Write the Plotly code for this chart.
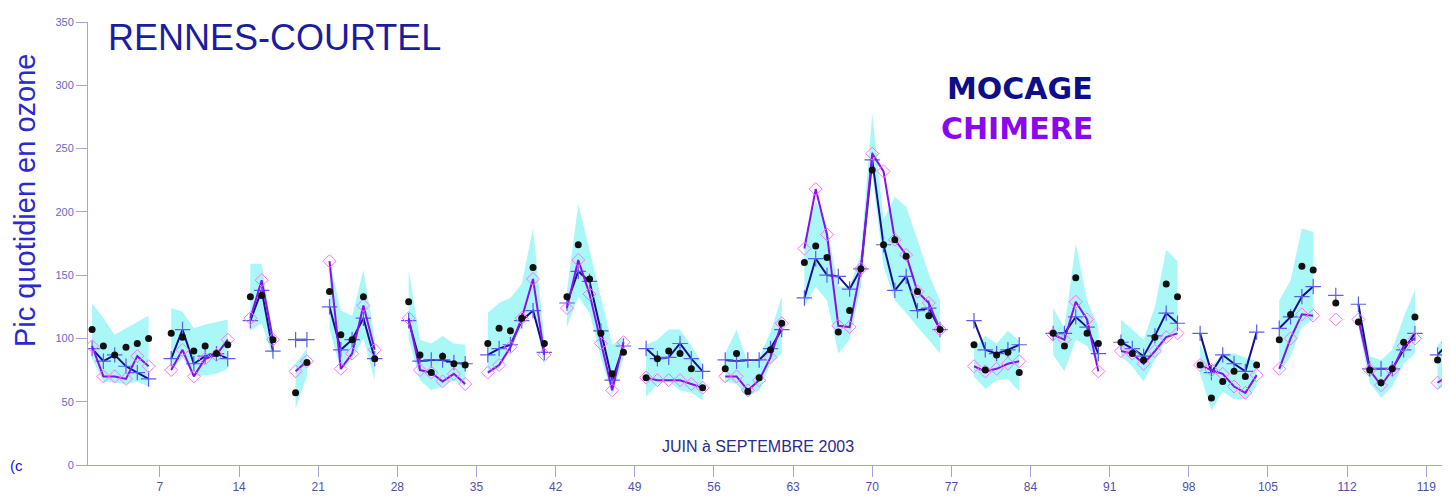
import plotly.graph_objects as go

days = list(range(1, 122))
N = None
# observed daily ozone peak (black dots)
obs = [107, 94, 87, 93, 96, 100, N,
       104, 101, 90, 94, 88, 95, N,
       133, 134, 99, N, 57, 81, N,
       137, 103, 99, 133, 84, N, N,
       129, 87, 73, 86, 80, 79, N,
       96, 108, 106, 116, 156, 96, N,
       133, 174, 147, 104, 72, 89, N,
       69, 84, 90, 88, 76, 61, N,
       76, 88, 58, 69, 91, 112, N,
       160, 173, 164, 105, 122, 155, 233,
       174, 178, 165, 137, 118, 107, N,
       N, 95, 75, 87, 89, 73, N,
       N, 104, 94, 148, 104, 96, N,
       97, 88, 83, 101, 143, 133, N,
       79, 53, 66, 74, 70, 79, N,
       99, 119, 157, 154, N, 128, N,
       113, 75, 65, 76, 97, 117, N,
       83, 77]
mocage = [92, 82, 87, 78, 73, 68, N,
          84, 107, 80, 86, 88, 84, N,
          114, 138, 90, N, 99, 99, N,
          125, 91, 99, 116, 84, N, N,
          114, 82, 83, 83, 81, 80, N,
          87, 92, 95, 114, 122, 89, N,
          128, 153, 145, 106, 67, 94, N,
          92, 84, 85, 96, 84, 74, N,
          83, 82, 83, 83, 92, 107, N,
          132, 163, 150, 149, 139, 155, 241,
          174, 138, 149, 122, 124, 107, N,
          N, 114, 91, 88, 91, 95, N,
          N, 104, 104, 117, 109, 88, N,
          97, 92, 86, 102, 120, 112, N,
          104, 73, 87, 80, 74, 105, N,
          108, 117, 133, 141, N, 134, N,
          127, 76, 76, 76, 91, 104, N,
          87, 97]
chimere = [94, 70, 70, 68, 86, 78, N,
           75, 91, 70, 84, 87, 99, N,
           116, 146, 99, N, 74, 82, N,
           161, 76, 88, 126, 91, N, N,
           116, 75, 73, 66, 72, 64, N,
           73, 79, 93, 116, 147, 87, N,
           124, 162, 135, 96, 59, 97, N,
           69, 67, 67, 67, 64, 61, N,
           70, 70, 59, 67, 85, 112, N,
           171, 218, 182, 110, 109, 155, 246,
           232, 178, 166, 137, 128, 107, N,
           N, 78, 74, 76, 80, 82, N,
           N, 103, 99, 129, 115, 74, N,
           90, 88, 80, 90, 101, 104, N,
           79, 75, 72, 62, 57, 71, N,
           76, 100, 119, 118, N, 115, N,
           115, 75, 63, 75, 94, 100, N,
           65, 71]
band_low = [84, 66, 65, 64, 66, 62, N,
            74, 85, 70, 71, 72, 76, N,
            106, 112, 85, N, 45, 70, N,
            108, 74, 84, 100, 67, N, N,
            100, 67, 59, 62, 67, 62, N,
            72, 76, 91, 109, 125, 78, N,
            109, 133, 120, 85, 55, 85, N,
            54, 64, 66, 59, 57, 51, N,
            66, 64, 54, 59, 80, 88, N,
            125, 141, 130, 88, 99, 141, 230,
            157, 130, 120, 109, 99, 88, N,
            N, 70, 60, 67, 68, 58, N,
            N, 87, 74, 99, 94, 80, N,
            86, 78, 66, 83, 99, 104, N,
            72, 43, 58, 52, 52, 62, N,
            72, 86, 109, 115, N, N, N,
            109, 65, 53, 62, 80, 88, N,
            59, 65]
band_high = [128, 116, 103, 108, 113, 118, N,
             124, 121, 108, 111, 113, 115, N,
             159, 159, 103, N, 80, 92, N,
             162, 122, 118, 154, 100, N, N,
             154, 99, 96, 102, 96, 95, N,
             120, 128, 132, 143, 187, 100, N,
             138, 206, 170, 133, 95, 101, N,
             95, 99, 107, 107, 94, 80, N,
             88, 107, 80, 85, 105, 133, N,
             178, 209, 188, 141, 141, 167, 278,
             194, 212, 204, 178, 151, 130, N,
             N, 92, 102, 96, 106, 98, N,
             N, 124, 108, 175, 130, 109, N,
             115, 107, 99, 125, 170, 161, N,
             95, 78, 88, 88, 85, 82, N,
             130, 146, 187, 184, N, N, N,
             128, 86, 83, 91, 117, 138, N,
             95, 101]

x_ticks = [7, 14, 21, 28, 35, 42, 49, 56, 63, 70, 77, 84, 91, 98, 105, 112, 119]
y_ticks = [0, 50, 100, 150, 200, 250, 300, 350]

# build band polygons from contiguous runs of the band arrays
bx, by = [], []
run = []
for i, d in enumerate(days + [None]):
    ok = d is not None and band_low[i] is not None
    if ok:
        run.append(i)
    elif run:
        xs = [days[j] for j in run] + [days[j] for j in reversed(run)]
        ys = [band_high[j] for j in run] + [band_low[j] for j in reversed(run)]
        bx += xs + [None]
        by += ys + [None]
        run = []

# page offset of the plot div (default body margin)
OFF = 8
W, H = 1450 - OFF, 499 - OFF
L, R, T, B = 88 - OFF, 0, 22 - OFF, 34
PW, PH = W - L - R, H - T - B


def px(xp):  # page pixel -> paper x
    return (xp - OFF - L) / PW


def py(yp):  # page pixel -> paper y
    return (H - B - (yp - OFF)) / PH


fig = go.Figure()
fig.add_trace(go.Scatter(x=bx, y=by, fill="toself", mode="none",
                         fillcolor="#aaf7f8", hoverinfo="skip"))
fig.add_trace(go.Scatter(x=days, y=mocage, mode="lines+markers", name="MOCAGE",
                         line=dict(color="#12128f", width=2),
                         marker=dict(symbol="cross-thin", size=11,
                                     line=dict(color="#5c5cf0", width=1.2))))
fig.add_trace(go.Scatter(x=days, y=chimere, mode="lines+markers", name="CHIMERE",
                         line=dict(color="#8a10ee", width=2),
                         marker=dict(symbol="diamond-open", size=10, color="#ff70ff",
                                     line=dict(width=1))))
fig.add_trace(go.Scatter(x=days, y=obs, mode="markers", name="Observations",
                         marker=dict(symbol="circle", size=7, color="#101010")))

axcol = "#a4a4e4"
tickfont = dict(family="Liberation Sans", size=12, color="#5050b0")
fig.update_xaxes(range=[0.64, 121.1], tickvals=x_ticks, ticks="outside", ticklen=11,
                 tickcolor=axcol, showline=True, linecolor=axcol, linewidth=1,
                 showgrid=False, zeroline=False, tickfont=tickfont)
fig.update_yaxes(range=[0, 350], tickvals=y_ticks, ticks="outside", ticklen=11,
                 tickcolor=axcol, showline=True, linecolor=axcol, linewidth=1,
                 showgrid=False, zeroline=False,
                 tickfont=dict(family="Liberation Sans", size=11, color="#6868c8"))

ann = [
    dict(text="RENNES-COURTEL", x=px(106), y=py(37), xanchor="left", yanchor="middle",
         font=dict(family="Liberation Sans", size=36, color="#1c1ca0")),
    dict(text="<b>MOCAGE</b>", x=px(1095), y=py(88), xanchor="right", yanchor="middle",
         font=dict(family="DejaVu Sans", size=30, color="#0e0e88")),
    dict(text="<b>CHIMERE</b>", x=px(1095), y=py(128), xanchor="right", yanchor="middle",
         font=dict(family="DejaVu Sans", size=30, color="#8a08f0")),
    dict(text="Pic quotidien en ozone", x=px(25), y=py(201), textangle=-90,
         xanchor="center", yanchor="middle",
         font=dict(family="Liberation Sans", size=29, color="#2a2ad0")),
    dict(text="JUIN à SEPTEMBRE 2003", x=px(758), y=py(446), xanchor="center",
         yanchor="middle", font=dict(family="Liberation Sans", size=16, color="#2a2a90")),
    dict(text="(c", x=px(OFF), y=py(465), xanchor="left", yanchor="middle",
         font=dict(family="Liberation Sans", size=15, color="#1010ff")),
]
for a in ann:
    a.update(xref="paper", yref="paper", showarrow=False)
fig.update_layout(annotations=ann, width=W, height=H, showlegend=False,
                  margin=dict(l=L, r=R, t=T, b=B),
                  plot_bgcolor="white", paper_bgcolor="white")
fig.write_html("out.html")
